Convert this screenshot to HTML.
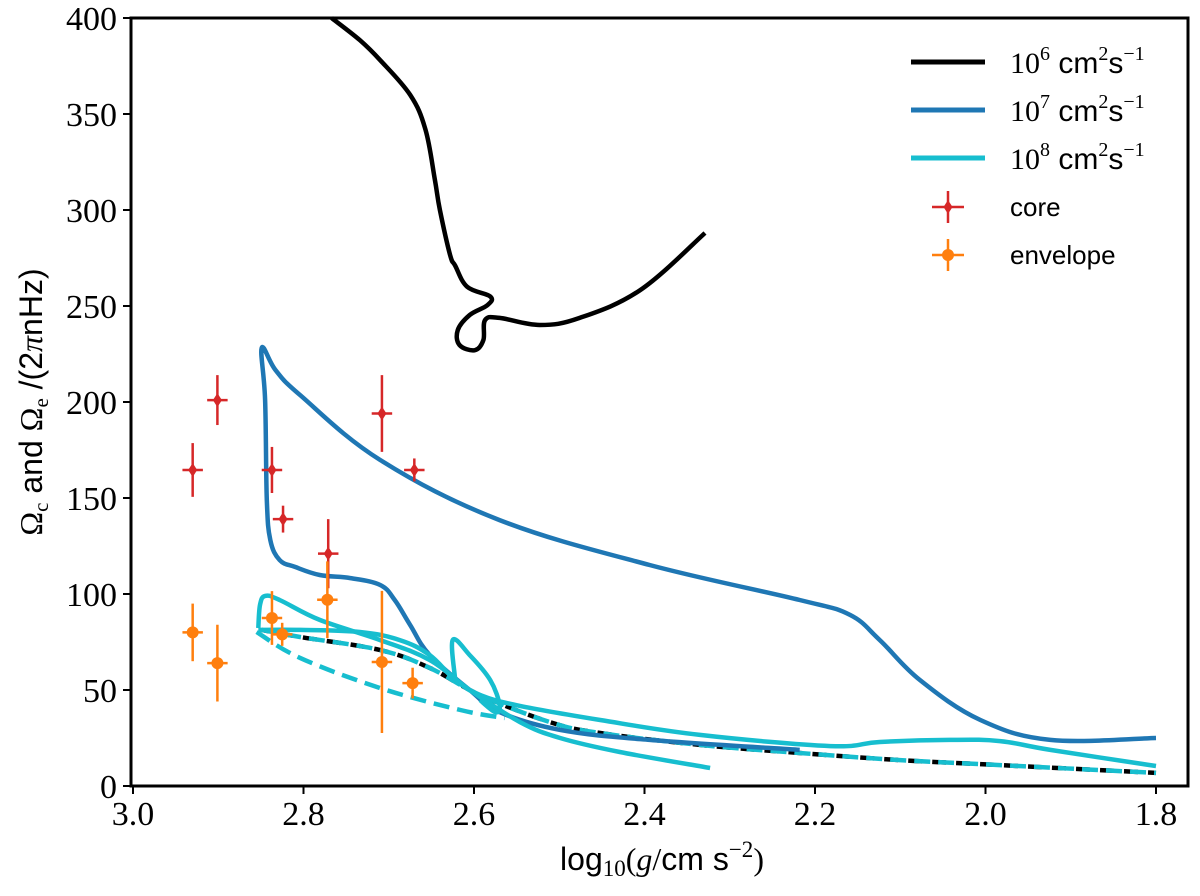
<!DOCTYPE html>
<html><head><meta charset="utf-8">
<style>
body{margin:0;background:#fff;}
svg text{font-family:"Liberation Serif",serif;}
.sans{font-family:"Liberation Sans","DejaVu Sans",sans-serif;}
</style></head>
<body>
<svg id="chart" width="1200" height="891" viewBox="0 0 1200 891" xmlns="http://www.w3.org/2000/svg">
<g id="plot"></g>
<rect x="131" y="18" width="1057" height="768" fill="none" stroke="#000" stroke-width="3"/>
<g id="ticks"></g>
<text x="662" y="870" font-size="32" text-anchor="middle" class="sans">log<tspan font-family="Liberation Serif" font-size="23" dy="6">10</tspan><tspan font-family="Liberation Serif" dy="-6">(</tspan><tspan font-family="Liberation Serif" font-style="italic">g</tspan><tspan font-family="Liberation Serif">/</tspan>cm s<tspan font-family="Liberation Serif" font-size="23" dy="-13">−2</tspan><tspan font-family="Liberation Serif" dy="13">)</tspan></text>
<text transform="translate(42,402) rotate(-90)" font-size="32" text-anchor="middle" class="sans"><tspan font-family="Liberation Serif">Ω</tspan><tspan font-family="Liberation Serif" font-size="21" dy="6">c</tspan><tspan dy="-6"> and </tspan><tspan font-family="Liberation Serif">Ω</tspan><tspan font-family="Liberation Serif" font-size="21" dy="6">e</tspan><tspan dy="-6"> /(2</tspan><tspan font-family="Liberation Serif" font-style="italic">π</tspan>nHz)</text>
<g id="legend"></g>
</svg>
<script>
const xTicks=[3.0,2.8,2.6,2.4,2.2,2.0,1.8];
const xTickLabels=["3.0","2.8","2.6","2.4","2.2","2.0","1.8"];
const yTicks=[0,50,100,150,200,250,300,350,400];
const yTickLabels=["0","50","100","150","200","250","300","350","400"];

const k6G=[2.767,2.734,2.710,2.675,2.657,2.646,2.640,2.628,2.622,2.608,2.581,2.584,2.605,2.619,2.617,2.599,2.589,2.587,2.570,2.523,2.476,2.405,2.329];
const k6V=[400,388.5,378,360,342,316,300,276.5,271,260,255,250.5,245.3,237.5,229.7,227,232.3,242.7,243.8,240.1,243.8,258.3,288];
const k7G=[2.218,2.394,2.499,2.570,2.605,2.652,2.675,2.693,2.710,2.745,2.781,2.810,2.828,2.839,2.843,2.845,2.849,2.833,2.804,2.710,2.570,2.394,2.218,2.159,2.124,2.077,2.006,1.924,1.800];
const k7V=[18.8,24,29.2,38.5,50,68.2,83.9,96.9,104.7,108.3,109.9,114.1,117.7,128.1,149,201,228.1,216.7,203.6,169.8,138.5,115.1,96.9,89.1,76,55.2,34.4,24,25];
const k8aG=[2.853,2.851,2.845,2.828,2.781,2.710,2.652,2.605,2.546,2.499,2.429,2.323];
const k8aV=[82.3,94.3,99,96.9,86.5,76,65.6,50,33.3,25,17.7,9.4];
const k8bG=[2.853,2.804,2.734,2.687,2.652,2.622,2.593,2.546,2.452,2.335,2.182,2.124,2.042,1.983,1.924,1.800];
const k8bV=[81.3,81.3,80.2,76,68.2,55.2,47.4,41.7,34.4,26.6,20.8,22.9,24,23.4,18.8,10.4];
const k8cG=[2.622,2.625,2.605,2.581,2.570,2.575,2.593];
const k8cV=[55.2,76,68.2,55.2,42.2,38.5,44.8];
const envAG=[2.855,2.804,2.710,2.616,2.564];
const envAV=[80.2,66.7,51,39.6,35.4];
const envBG=[2.849,2.804,2.710,2.652,2.593,2.511,2.452,2.335,2.218,2.100,1.983,1.800];
const envBV=[81.3,77.6,70.8,61.5,47.4,33.3,27.6,21.4,17.2,13.5,10.9,6.8];

const coreG=[2.930,2.901,2.837,2.824,2.771,2.708,2.670];
const coreV=[164.6,201,164.6,139,121,194,164.6];
const coreErr=[14,13,12,7,18,20,6];
const envG=[2.930,2.901,2.837,2.825,2.772,2.708,2.672];
const envV=[80,64,87.5,79,97,64.6,53.6];
const envErr=[15,20,14,6,20,37,8];
const gErr=0.012;

const X=g=>133+(3.0-g)*852.5;
const Y=v=>786-v*1.92;
const NS="http://www.w3.org/2000/svg";
const plot=document.getElementById('plot');
const ticks=document.getElementById('ticks');
const legend=document.getElementById('legend');
function mk(tag,attrs,parent){const e=document.createElementNS(NS,tag);for(const k in attrs)e.setAttribute(k,attrs[k]);parent.appendChild(e);return e;}
function smooth(G,V){
  const P=G.map((g,i)=>[X(g),Y(V[i])]);
  let d='M'+P[0][0].toFixed(1)+','+P[0][1].toFixed(1);
  for(let i=0;i<P.length-1;i++){
    const p0=P[Math.max(0,i-1)],p1=P[i],p2=P[i+1],p3=P[Math.min(P.length-1,i+2)];
    const t=0.18;
    const c1=[p1[0]+(p2[0]-p0[0])*t,p1[1]+(p2[1]-p0[1])*t];
    const c2=[p2[0]-(p3[0]-p1[0])*t,p2[1]-(p3[1]-p1[1])*t];
    d+=` C${c1[0].toFixed(1)},${c1[1].toFixed(1)} ${c2[0].toFixed(1)},${c2[1].toFixed(1)} ${p2[0].toFixed(1)},${p2[1].toFixed(1)}`;
  }
  return d;
}

let e;
e=mk('path',{d:smooth(envBG,envBV),fill:'none',stroke:'#000',"stroke-width":4.5,"stroke-dasharray":"14,10","stroke-dashoffset":"6"},plot);


e=mk('path',{d:smooth(envBG,envBV),fill:'none',stroke:'#17becf',"stroke-width":4.5,"stroke-dasharray":"16,8"},plot);


e=mk('path',{d:smooth(envAG,envAV),fill:'none',stroke:'#17becf',"stroke-width":4.5,"stroke-dasharray":"16,8"},plot);


e=mk('path',{d:smooth(k7G,k7V),fill:'none',stroke:'#1f77b4',"stroke-width":4.5,"stroke-linejoin":"round"},plot);


e=mk('path',{d:smooth(k8aG,k8aV),fill:'none',stroke:'#17becf',"stroke-width":4.5,"stroke-linejoin":"round"},plot);


e=mk('path',{d:smooth(k8bG,k8bV),fill:'none',stroke:'#17becf',"stroke-width":4.5,"stroke-linejoin":"round"},plot);


e=mk('path',{d:smooth(k8cG,k8cV),fill:'none',stroke:'#17becf',"stroke-width":4.5,"stroke-linejoin":"round"},plot);


e=mk('path',{d:smooth(k6G,k6V),fill:'none',stroke:'#000',"stroke-width":4.5,"stroke-linejoin":"round"},plot);



function errpt(g,v,err,color,diamond,name){
  const gp=mk('g',{},plot);
  
  
  const cx=X(g),cy=Y(v);
  mk('line',{x1:cx,x2:cx,y1:Y(v+err),y2:Y(v-err),stroke:color,"stroke-width":2.5},gp);
  mk('line',{x1:X(g+gErr),x2:X(g-gErr),y1:cy,y2:cy,stroke:color,"stroke-width":2.5},gp);
  if(diamond) mk('polygon',{points:`${cx},${cy-7} ${cx+4.5},${cy} ${cx},${cy+7} ${cx-4.5},${cy}`,fill:color},gp);
  else mk('circle',{cx:cx,cy:cy,r:6,fill:color},gp);
}
coreG.forEach((g,i)=>errpt(g,coreV[i],coreErr[i],'#d62728',true,'core-point'));
envG.forEach((g,i)=>errpt(g,envV[i],envErr[i],'#ff7f0e',false,'envelope-point'));

xTicks.forEach((t,i)=>{
  const x=X(t);
  e=mk('line',{x1:x,x2:x,y1:786,y2:794,stroke:'#000',"stroke-width":2},ticks);
  
  
  e=mk('text',{x:x,y:825,"font-size":34,"text-anchor":"middle"},ticks);
  e.textContent=xTickLabels[i];
  
  
});
yTicks.forEach((t,i)=>{
  const y=Y(t);
  e=mk('line',{x1:123,x2:131,y1:y,y2:y,stroke:'#000',"stroke-width":2},ticks);
  
  
  e=mk('text',{x:117,y:y+12,"font-size":34,"text-anchor":"end"},ticks);
  e.textContent=yTickLabels[i];
  
  
});

const legLines=[['#000','6'],['#1f77b4','7'],['#17becf','8']];
legLines.forEach((l,i)=>{
  const y=62+i*48;
  const g=mk('g',{},legend);
  
  
  mk('line',{x1:911,x2:985,y1:y,y2:y,stroke:l[0],"stroke-width":5},g);
  const t=mk('text',{x:1010,y:y+11,"font-size":30},g);
  t.innerHTML=`10<tspan font-size="20" dy="-13">${l[1]}</tspan><tspan class="sans" dy="13"> cm</tspan><tspan font-size="20" dy="-13">2</tspan><tspan class="sans" dy="13">s</tspan><tspan font-size="20" dy="-13">−1</tspan>`;
});
[['#d62728',true,'core',207],['#ff7f0e',false,'envelope',255]].forEach(l=>{
  const g=mk('g',{},legend);
  
  
  const cx=948,cy=l[3];
  mk('line',{x1:cx,x2:cx,y1:cy-16,y2:cy+16,stroke:l[0],"stroke-width":2.5},g);
  mk('line',{x1:cx-16,x2:cx+16,y1:cy,y2:cy,stroke:l[0],"stroke-width":2.5},g);
  if(l[1]) mk('polygon',{points:`${cx},${cy-7} ${cx+4.5},${cy} ${cx},${cy+7} ${cx-4.5},${cy}`,fill:l[0]},g);
  else mk('circle',{cx:cx,cy:cy,r:6,fill:l[0]},g);
  const t=mk('text',{x:1010,y:cy+9,"font-size":26,class:"sans"},g);
  t.textContent=l[2];
});
</script>
</body></html>
